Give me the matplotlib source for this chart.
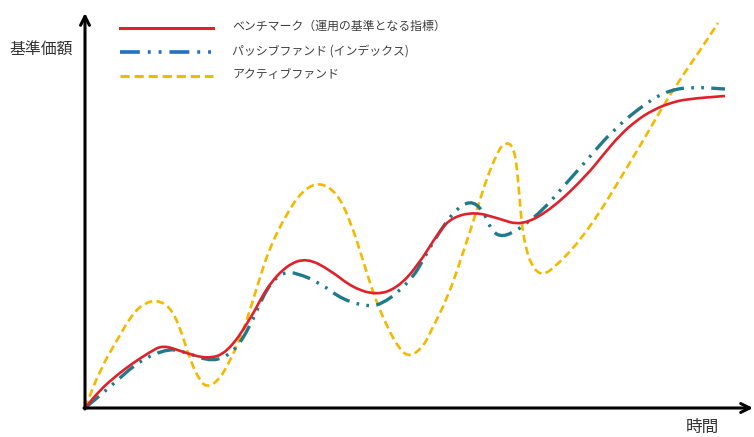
import matplotlib.pyplot as plt
from matplotlib.lines import Line2D
from matplotlib.patches import PathPatch
from matplotlib.path import Path

plt.rcParams['font.family'] = ['Noto Sans CJK JP', 'DejaVu Sans']

# time / price readings for the three curves (origin at the axis corner)
bench_t = [0, 15, 32, 48, 65, 78, 98, 122, 142, 165, 182, 202, 222, 245, 268, 292, 312,
           332, 355, 368, 390, 412, 437, 468, 502, 518, 535, 552, 568, 585, 602, 640]
bench_v = [0, 18, 33, 45, 56, 63, 56, 49, 55, 88, 121, 143, 150, 138, 120, 113, 120,
           141, 178, 191, 196, 190, 182, 200, 233, 253, 273, 288, 298, 305, 309, 312]

passive_t = [0, 25, 55, 85, 102, 128, 148, 165, 182, 198, 212, 235, 258, 285, 298, 312,
             328, 337, 348, 368, 385, 398, 407, 418, 432, 438, 458, 478, 502, 528, 562,
             585, 608, 640]
passive_v = [0, 21, 48, 60, 55, 46, 55, 81, 121, 136, 135, 125, 108, 101, 105, 115,
             131, 146, 166, 196, 208, 198, 176, 171, 178, 182, 198, 221, 248, 278, 306,
             318, 321, 319]

active_t = [0, 15, 32, 48, 60, 72, 85, 95, 105, 115, 122, 132, 142, 158, 175, 185, 202,
            218, 235, 252, 265, 278, 288, 302, 315, 325, 338, 345, 363, 378, 392, 402,
            415, 420, 424, 428, 431, 433, 435, 437, 442, 447, 452, 458, 463, 468, 480,
            495, 515, 535, 558, 578, 598, 618, 633]
active_v = [0, 38, 68, 95, 105, 108, 101, 81, 48, 27, 21, 26, 41, 75, 131, 161, 195,
            218, 226, 215, 188, 148, 115, 81, 58, 51, 61, 75, 111, 155, 198, 231,
            261, 264, 265, 260, 248, 228, 205, 181, 155, 143, 136, 134, 136, 140, 151,
            168, 196, 229, 267, 302, 333, 362, 385]

labels = ['ベンチマーク（運用の基準となる指標）', 'パッシブファンド (インデックス)', 'アクティブファンド']

red = '#E0202A'
teal = '#1F7A8C'
blue = '#2371C0'
gold = '#F5B800'
passive_dash = (0, (5.5, 2.2, 0.8, 2.2, 0.8, 2.2))
active_dash = (0, (3, 1.6))


def smooth_path(xs, ys):
    # quadratic bezier through the midpoints, each reading used as the control point
    pts = list(zip(xs, ys))
    verts = [pts[0]]
    codes = [Path.MOVETO]
    mid = lambda a, b: ((a[0] + b[0]) / 2, (a[1] + b[1]) / 2)
    verts.append(mid(pts[0], pts[1]))
    codes.append(Path.LINETO)
    for i in range(1, len(pts) - 1):
        verts += [pts[i], mid(pts[i], pts[i + 1])]
        codes += [Path.CURVE3, Path.CURVE3]
    verts.append(pts[-1])
    codes.append(Path.LINETO)
    return Path(verts, codes)


fig = plt.figure(figsize=(7.54, 4.37), dpi=100)
ax = fig.add_axes([0, 0, 1, 1])
ax.set_xlim(-85, 669)
ax.set_ylim(-29, 408)
ax.axis('off')

ax.add_patch(PathPatch(smooth_path(active_t, active_v), fill=False, edgecolor=gold,
                       lw=1.9, linestyle=active_dash, zorder=1))
ax.add_patch(PathPatch(smooth_path(passive_t, passive_v), fill=False, edgecolor=teal,
                       lw=2.4, linestyle=passive_dash, zorder=2))
ax.add_patch(PathPatch(smooth_path(bench_t, bench_v), fill=False, edgecolor=red,
                       lw=1.9, joinstyle='round', zorder=3))

# axes drawn as arrows
arrow = dict(arrowstyle='->', lw=2.2, color='black', mutation_scale=16,
             shrinkA=0, shrinkB=0)
ax.annotate('', xy=(0, 395), xytext=(0, -1), arrowprops=arrow)
ax.annotate('', xy=(668, 0), xytext=(-1, 0), arrowprops=arrow)

ax.text(-44, 358, '基準価額', fontsize=11.4, color='#333333', ha='center', va='center')
ax.text(617, -28, '時間', fontsize=12, color='#333333', ha='center', va='bottom')

# hand-placed legend
styles = [dict(color=red, lw=2.2, linestyle='-'),
          dict(color=blue, lw=2.6, linestyle=passive_dash),
          dict(color=gold, lw=2.2, linestyle=active_dash)]
rows = [0.936, 0.881, 0.826]
for y, lab, st in zip(rows, labels, styles):
    fig.add_artist(Line2D([0.159, 0.2825], [y, y], transform=fig.transFigure, **st))
    fig.text(0.308, y + 0.003, lab, fontsize=8.6, color='#404040', va='center')

fig.savefig('out.png', dpi=100)
